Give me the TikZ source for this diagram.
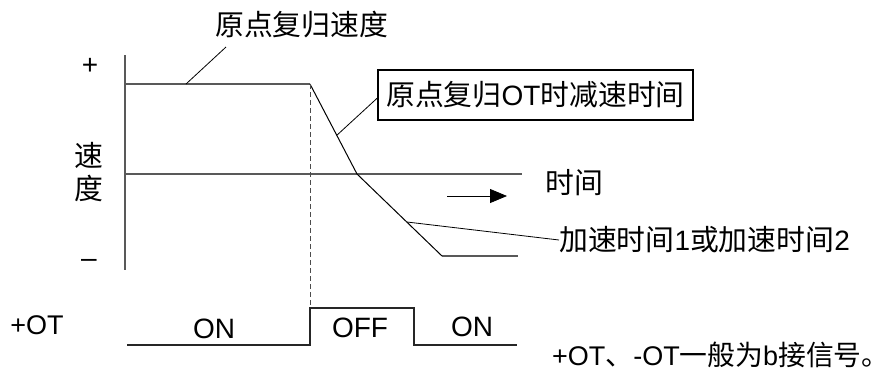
\documentclass[tikz,border=0pt]{standalone}
\usepackage{fontspec}
\setmainfont{Liberation Sans}
\newfontfamily\cjkfont{Noto Sans CJK SC}[Scale=1.03]
\newcommand{\zhtxt}[1]{{\cjkfont #1}}
\usetikzlibrary{arrows.meta,calc}
\begin{document}
\begin{tikzpicture}[x=1pt,y=-1pt,
  lbl/.style={inner sep=0pt, font=\fontsize{28}{32}\selectfont},
  small/.style={inner sep=0pt, font=\fontsize{27}{31}\selectfont},
  axisline/.style={line width=1.2pt, black!65},
  curve/.style={line width=1pt, black},
  leader/.style={line width=0.8pt, black},
  sig/.style={line width=1.1pt, black!85},
  boxed/.style={draw, line width=1.3pt, inner sep=0pt, minimum width=315pt, minimum height=50pt, font=\fontsize{28}{32}\selectfont}]
\useasboundingbox (0,0) rectangle (889,376);
% coordinates
\coordinate (axtop) at (125,55);
\coordinate (axbot) at (125,270);
\coordinate (vstart) at (125,84);
\coordinate (vbreak) at (310,84);
\coordinate (zstart) at (125,174);
\coordinate (zend) at (522,174);
\coordinate (bend) at (357,174);
\coordinate (blow) at (442,256);
\coordinate (bend2) at (518,256);
\coordinate (dashend) at (310,308);
\coordinate (s0) at (127,345);
\coordinate (s1) at (310,345);
\coordinate (s2) at (310,308);
\coordinate (s3) at (414,308);
\coordinate (s4) at (414,345);
\coordinate (s5) at (517,345);
% axes
\draw[axisline] (axtop) -- (axbot);
\draw[axisline] (vstart) -- (vbreak);
\draw[axisline] (zstart) -- (zend);
\draw[axisline] (blow) -- (bend2);
% speed profile
\draw[curve] (vbreak) -- (bend) -- (blow);
\draw[leader, dash pattern=on 5pt off 3pt, black!70] (vbreak) -- (dashend);
% signal
\draw[sig] (s0) -- (s1) -- (s2) -- (s3) -- (s4) -- (s5);
% labels
\node[lbl, anchor=west] (spdlbl) at (215,25) {\zhtxt{原点复归速度}};
\coordinate (spdpt) at (186,84);
\coordinate (spdtop) at (226,47);
\draw[leader] (spdpt) -- (spdtop);
\node[boxed] (otbox) at (535.5,95) {\zhtxt{原点复归}OT\zhtxt{时减速时间}};
\coordinate (decpt) at ($(vbreak)!0.57!(bend)$);
\coordinate (boxpt) at (otbox.west |- 0,98);
\draw[leader] (decpt) -- (boxpt);
\node[lbl, anchor=west] (timelbl) at (545,183) {\zhtxt{时间}};
\coordinate (arrA) at (447,196);
\coordinate (arrB) at (507,196);
\draw[leader, -{Triangle[length=17pt,width=14pt]}] (arrA) -- (arrB);
\node[lbl, anchor=west] (acclbl) at (559,240) {\zhtxt{加速时间}1\zhtxt{或加速时间}2};
\coordinate (accpt) at ($(bend)!0.585!(blow)$);
\draw[leader] (accpt) -- (acclbl.west);
\node[lbl] (plus) at (90,66) {+};
\node[lbl] (su) at (89,155) {\zhtxt{速}};
\node[lbl] (du) at (89,188) {\zhtxt{度}};
\node[lbl] (minus) at (89,263) {–};
\node[small] (potlbl) at (37,325) {+OT};
\node[lbl] (on1) at (214,329) {ON};
\node[lbl] (off) at (360,328) {OFF};
\node[lbl] (on2) at (472,327) {ON};
\node[small, anchor=west] (note) at (552,355) {+OT\zhtxt{、}-OT\zhtxt{一般为}b\zhtxt{接信号。}};
\end{tikzpicture}
\end{document}
